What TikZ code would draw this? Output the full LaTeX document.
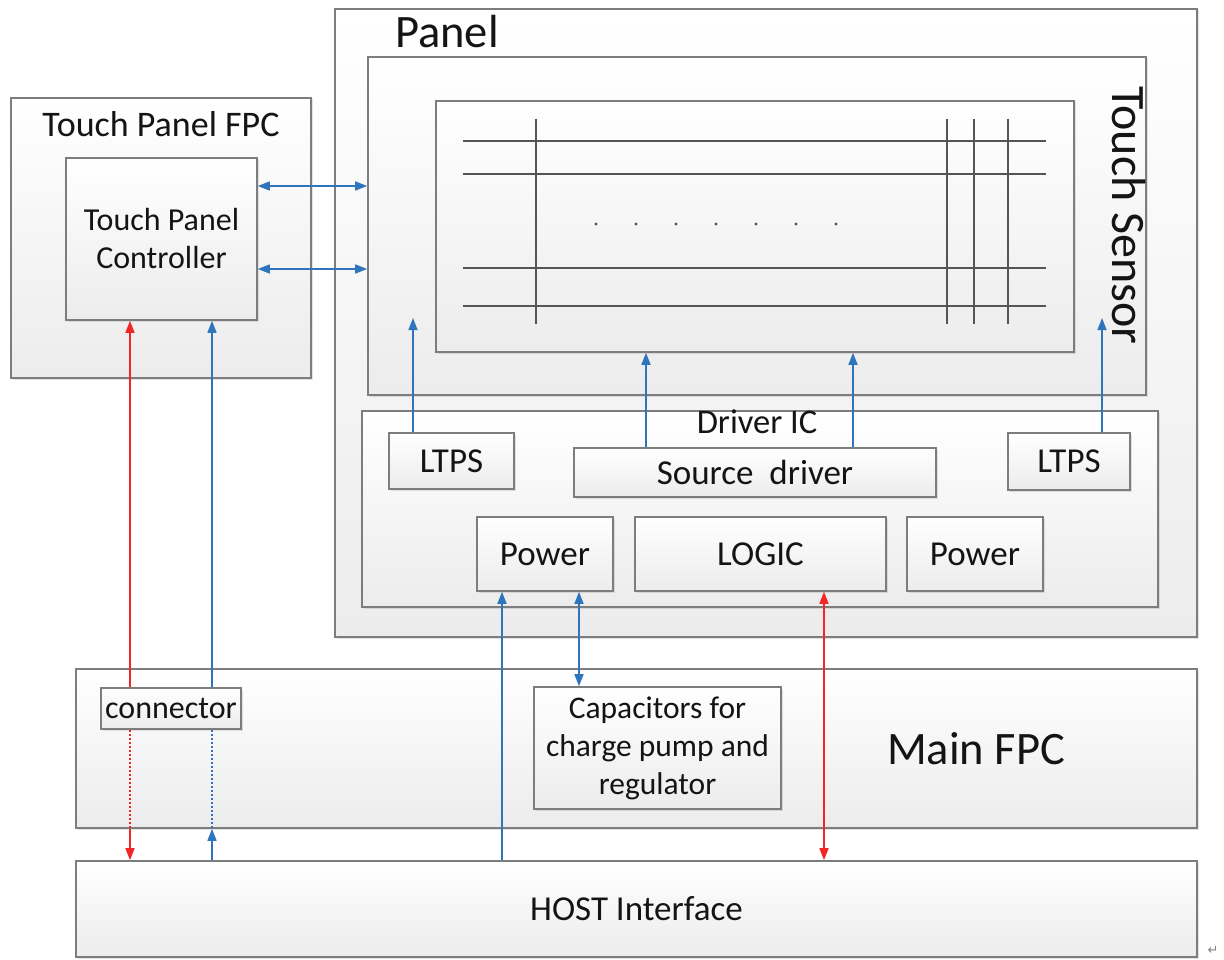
\documentclass[tikz,border=0pt]{standalone}
\usepackage{fontspec}
\setmainfont{Carlito}
\newfontfamily\symfont{DejaVu Sans}
\usetikzlibrary{arrows.meta,shadows}
\definecolor{bordergray}{RGB}{125,125,125}
\definecolor{linegray}{RGB}{85,85,85}
\definecolor{abl}{RGB}{46,117,190}
\definecolor{ared}{RGB}{242,38,38}
\definecolor{fillbot}{RGB}{236,236,236}
\tikzset{
  box/.style={draw=bordergray, line width=1.6pt, top color=white, bottom color=fillbot,
    inner sep=0pt, align=center, text=black!92, font=\fontsize{32}{38}\selectfont,
    drop shadow={shadow xshift=1.5pt, shadow yshift=-1.5pt, opacity=0.22}},
  icbox/.style={box, font=\fontsize{35}{42}\selectfont},
  lbl/.style={inner sep=0pt, text=black!92, font=\fontsize{34.5}{40}\selectfont},
  midlbl/.style={inner sep=0pt, text=black!92, font=\fontsize{36}{42}\selectfont},
  biglbl/.style={inner sep=0pt, text=black!92, font=\fontsize{46.5}{54}\selectfont},
  gridline/.style={draw=linegray, line width=1.4pt},
  tip/.style={-{Triangle[length=12pt,width=9pt]}},
  btip/.style={{Triangle[length=12pt,width=9pt]}-{Triangle[length=12pt,width=9pt]}},
  bl/.style={draw=abl, line width=1.5pt},
  rd/.style={draw=ared, line width=1.5pt},
  dotln/.style={dash pattern=on 2pt off 2pt},
}
\begin{document}
\begin{tikzpicture}[x=1pt,y=-1pt]
\useasboundingbox (0,0) rectangle (1224,960);
\fill[white] (0,0) rectangle (1224,960);

% Panel
\node[box, minimum width=862, minimum height=628] (panel) at (766,323) {};
\node[biglbl, anchor=base] (paneltxt) at (447,48) {Panel};
\node[box, minimum width=778, minimum height=338] (ts) at (757,226) {};
\node[biglbl, rotate=-90, font=\fontsize{48}{54}\selectfont] (tstxt) at (1129,215.5) {Touch Sensor};
\node[box, minimum width=638, minimum height=251] (grid) at (755,226.5) {};
% grid lines
\foreach \yy in {141,174,268,306} \draw[gridline] (463,\yy) -- (1046,\yy);
\foreach \xx in {536,947,974,1008} \draw[gridline] (\xx,119) -- (\xx,324);
\foreach \xx in {596,636,676,716,756,796,836} \fill[linegray] (\xx,224) circle (1.6);

% Touch panel FPC
\node[box, minimum width=300, minimum height=280] (tpfpc) at (161,238) {};
\node[midlbl, anchor=base] (tpfpctxt) at (161,137) {Touch Panel FPC};
\node[box, minimum width=191, minimum height=162] (tpc) at (161.5,239) {Touch Panel\\Controller};

% Driver IC
\node[box, minimum width=796, minimum height=196] (dic) at (760,509) {};
\node[lbl, anchor=base] (dictxt) at (757,433) {Driver IC};
\node[icbox, minimum width=125, minimum height=56] (ltps1) at (451.5,461) {LTPS};
\node[icbox, minimum width=362, minimum height=49] (sd) at (755,472.5) {Source\ \ driver};
\node[icbox, minimum width=122, minimum height=57] (ltps2) at (1069,461.5) {LTPS};
\node[icbox, minimum width=136, minimum height=74] (pw1) at (545,554) {Power};
\node[icbox, minimum width=251, minimum height=74] (logic) at (760.5,554) {LOGIC};
\node[icbox, minimum width=136, minimum height=74] (pw2) at (975,554) {Power};

% Main FPC
\node[box, minimum width=1121, minimum height=159] (mfpc) at (636.5,748.5) {};
\node[biglbl] (mfpctxt) at (976,749) {Main FPC};
\node[box, minimum width=140, minimum height=41] (conn) at (171,708.5) {connector};
\node[box, font=\fontsize{31.5}{38}\selectfont, minimum width=247, minimum height=122] (cap) at (657.5,748) {Capacitors for\\charge pump and\\regulator};

% Host
\node[icbox, minimum width=1121, minimum height=96] (host) at (636.5,909) {HOST Interface};
\node[inner sep=0pt, text=gray, font=\symfont\fontsize{13}{13}\selectfont] (para) at (1213,950) {↵};

% x positions
\coordinate (xr) at (130,0);
\coordinate (xb) at (212,0);
\coordinate (xp) at (502,0);
\coordinate (xc) at (579,0);
\coordinate (xl) at (824,0);
\coordinate (xs1) at (646,0);
\coordinate (xs2) at (853,0);
\coordinate (y1) at (0,186);
\coordinate (y2) at (0,269);
\coordinate (t1) at (413,318);
\coordinate (t2) at (1102,318);

% TPC <-> touch sensor
\draw[bl, btip] (tpc.east |- y1) -- (ts.west |- y1);
\draw[bl, btip] (tpc.east |- y2) -- (ts.west |- y2);

% LTPS / source driver to sensor
\draw[bl, tip] (ltps1.north -| t1) -- (t1);
\draw[bl, tip] (ltps2.north -| t2) -- (t2);
\draw[bl, tip] (sd.north -| xs1) -- (grid.south -| xs1);
\draw[bl, tip] (sd.north -| xs2) -- (grid.south -| xs2);

% red line TPC - host
\draw[rd, tip] (conn.north -| xr) -- (tpc.south -| xr);
\draw[rd, dotln] (conn.south -| xr) -- (mfpc.south -| xr);
\draw[rd, tip] (mfpc.south -| xr) -- (host.north -| xr);
% blue line TPC - host
\draw[bl, tip] (conn.north -| xb) -- (tpc.south -| xb);
\draw[bl, dotln] (conn.south -| xb) -- (mfpc.south -| xb);
\draw[bl, tip] (host.north -| xb) -- (mfpc.south -| xb);

% power / logic
\draw[bl, tip] (host.north -| xp) -- (pw1.south -| xp);
\draw[bl, btip] (pw1.south -| xc) -- (cap.north -| xc);
\draw[rd, btip] (logic.south -| xl) -- (host.north -| xl);
\end{tikzpicture}
\end{document}
